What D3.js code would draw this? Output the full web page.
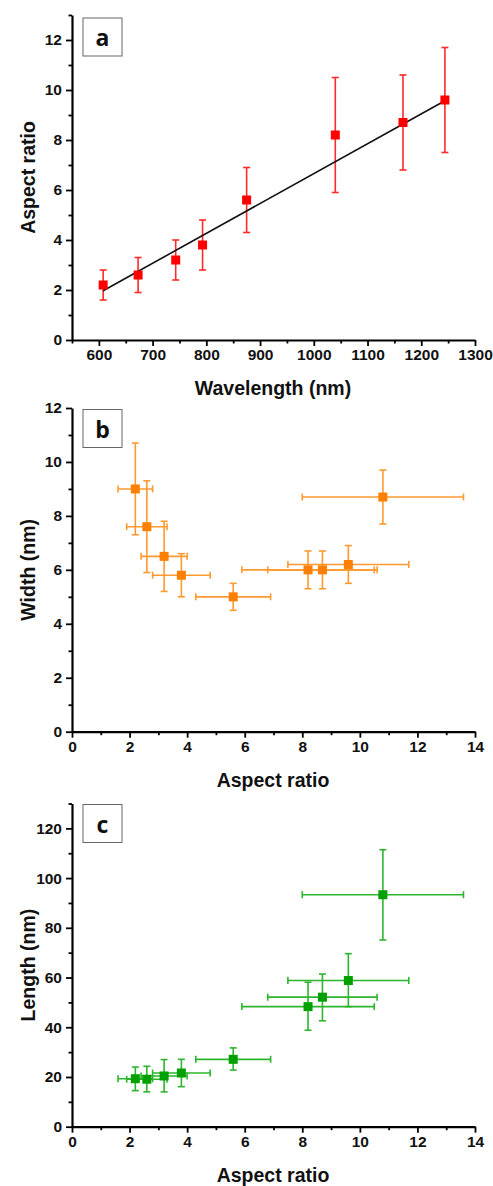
<!DOCTYPE html>
<html><head><meta charset="utf-8">
<script src="https://cdn.jsdelivr.net/npm/d3@7"></script>
<style>body{margin:0;background:#fff}svg{display:block}</style>
</head><body>
<svg id="chart" width="493" height="1186"></svg>
<script>
// Panel a: aspect ratio vs wavelength
const wavelength = [608, 673, 743, 793, 875, 1040, 1166, 1244];
const arA = [2.2, 2.6, 3.2, 3.8, 5.6, 8.2, 8.7, 9.6];
const arALow = [1.6, 1.9, 2.4, 2.8, 4.3, 5.9, 6.8, 7.5];
const arAHigh = [2.8, 3.3, 4.0, 4.8, 6.9, 10.5, 10.6, 11.7];
const fitX = [608, 1244];
const fitY = [1.97, 9.57];
const ticksA_X = [600, 700, 800, 900, 1000, 1100, 1200, 1300];
const ticksA_Y = [0, 2, 4, 6, 8, 10, 12];

// Panels b, c: aspect ratio with x error
const arB = [2.2, 2.6, 3.2, 3.8, 5.6, 8.2, 8.7, 9.6, 10.8];
const arBLow = [1.6, 1.9, 2.4, 2.8, 4.3, 5.9, 6.8, 7.5, 8.0];
const arBHigh = [2.8, 3.3, 4.0, 4.8, 6.9, 10.5, 10.6, 11.7, 13.6];
// Panel b: width
const widthV = [9.0, 7.6, 6.5, 5.8, 5.0, 6.0, 6.0, 6.2, 8.7];
const widthLow = [7.3, 5.9, 5.2, 5.0, 4.5, 5.3, 5.3, 5.5, 7.7];
const widthHigh = [10.7, 9.3, 7.8, 6.6, 5.5, 6.7, 6.7, 6.9, 9.7];
const ticksB_Y = [0, 2, 4, 6, 8, 10, 12];
// Panel c: length
const lengthV = [19.3, 19.1, 20.4, 21.6, 27.1, 48.3, 52.1, 58.8, 93.3];
const lengthLow = [14.5, 14.0, 14.0, 16.1, 22.8, 38.8, 42.6, 48.3, 75.1];
const lengthHigh = [24.0, 24.3, 27.0, 27.1, 31.7, 58.1, 61.4, 69.6, 111.4];
const ticksC_Y = [0, 20, 40, 60, 80, 100, 120];
const ticksBC_X = [0, 2, 4, 6, 8, 10, 12, 14];

const svg = d3.select("#chart");
const FONT = "'Liberation Sans', Arial, sans-serif";
const fmt = d3.format("d");

function panel(opts) {
  const g = svg.append("g");
  const x = d3.scaleLinear().domain(opts.xDomain).range([72, 475]);
  const y = d3.scaleLinear().domain(opts.yDomain).range([opts.y0, opts.y1]);

  const xMinor = d3.range(opts.xDomain[0], opts.xDomain[1] + 1e-9, opts.xMinor)
    .filter(v => !opts.xTicks.some(t => Math.abs(t - v) < 1e-9));
  const yMinor = d3.range(opts.yDomain[0], opts.yDomain[1] + 1e-9, opts.yMinor)
    .filter(v => !opts.yTicks.some(t => Math.abs(t - v) < 1e-9));

  g.append("g").attr("transform", `translate(0,${opts.y0})`)
    .call(d3.axisBottom(x).tickValues(opts.xTicks).tickFormat(fmt).tickSize(6).tickPadding(3).tickSizeOuter(0));
  g.append("g").attr("transform", `translate(0,${opts.y0})`)
    .call(d3.axisBottom(x).tickValues(xMinor).tickSize(3.5).tickFormat("").tickSizeOuter(0))
    .select(".domain").remove();
  g.append("g").attr("transform", `translate(72,0)`)
    .call(d3.axisLeft(y).tickValues(opts.yTicks).tickFormat(fmt).tickSize(6).tickPadding(4).tickSizeOuter(0));
  g.append("g").attr("transform", `translate(72,0)`)
    .call(d3.axisLeft(y).tickValues(yMinor).tickSize(3.5).tickFormat("").tickSizeOuter(0))
    .select(".domain").remove();

  g.selectAll(".domain").attr("stroke", "#000").attr("stroke-width", 2.2);
  g.selectAll(".tick line").attr("stroke", "#000").attr("stroke-width", 1.8);
  g.selectAll(".tick text").attr("font-family", FONT).attr("font-weight", "bold")
    .attr("font-size", 15.5).attr("fill", "#111");

  g.append("text").attr("x", 273).attr("y", opts.y0 + 55)
    .attr("text-anchor", "middle").attr("font-family", FONT).attr("font-weight", "bold")
    .attr("font-size", 19.5).attr("fill", "#111").text(opts.xTitle);
  g.append("text").attr("transform", `translate(35,${(opts.y0 + opts.y1) / 2}) rotate(-90)`)
    .attr("text-anchor", "middle").attr("font-family", FONT).attr("font-weight", "bold")
    .attr("font-size", 19.5).attr("fill", "#111").text(opts.yTitle);

  g.append("rect").attr("x", 83).attr("y", opts.y1 + opts.boxOff).attr("width", 39).attr("height", 38)
    .attr("fill", "#fff").attr("stroke", "#666").attr("stroke-width", 1);
  g.append("text").attr("x", 102.5).attr("y", opts.y1 + opts.boxOff + 28)
    .attr("text-anchor", "middle").attr("font-family", "'Open Sans', sans-serif").attr("font-weight", "bold")
    .attr("font-size", 23).attr("fill", "#111").text(opts.letter);

  return {g, x, y};
}

function drawErrors(p, xs, ys, yLo, yHi, xLo, xHi, colErr) {
  const cap = 3.5;
  const eg = p.g.append("g").attr("stroke", colErr).attr("stroke-width", 1.6).attr("fill", "none");
  xs.forEach((v, i) => {
    eg.append("line").attr("x1", p.x(xs[i])).attr("x2", p.x(xs[i])).attr("y1", p.y(yLo[i])).attr("y2", p.y(yHi[i]));
    eg.append("line").attr("x1", p.x(xs[i]) - cap).attr("x2", p.x(xs[i]) + cap).attr("y1", p.y(yLo[i])).attr("y2", p.y(yLo[i]));
    eg.append("line").attr("x1", p.x(xs[i]) - cap).attr("x2", p.x(xs[i]) + cap).attr("y1", p.y(yHi[i])).attr("y2", p.y(yHi[i]));
    if (xLo) {
      eg.append("line").attr("x1", p.x(xLo[i])).attr("x2", p.x(xHi[i])).attr("y1", p.y(ys[i])).attr("y2", p.y(ys[i]));
      eg.append("line").attr("x1", p.x(xLo[i])).attr("x2", p.x(xLo[i])).attr("y1", p.y(ys[i]) - cap).attr("y2", p.y(ys[i]) + cap);
      eg.append("line").attr("x1", p.x(xHi[i])).attr("x2", p.x(xHi[i])).attr("y1", p.y(ys[i]) - cap).attr("y2", p.y(ys[i]) + cap);
    }
  });
}

function drawMarkers(p, xs, ys, col) {
  const s = 9;
  p.g.append("g").selectAll("rect").data(xs.map((v, i) => i)).join("rect")
    .attr("x", i => p.x(xs[i]) - s / 2).attr("y", i => p.y(ys[i]) - s / 2)
    .attr("width", s).attr("height", s).attr("fill", col);
}

// Panel a
const pa = panel({xDomain: [550, 1300], yDomain: [0, 13], y0: 340, y1: 15, xTicks: ticksA_X, yTicks: ticksA_Y,
  xMinor: 50, yMinor: 1, xTitle: "Wavelength (nm)", yTitle: "Aspect ratio", letter: "a", boxOff: 3});
drawErrors(pa, wavelength, arA, arALow, arAHigh, null, null, "#ff2a2a");
pa.g.append("path").datum(fitX.map((v, i) => [v, fitY[i]]))
  .attr("d", d3.line().x(d => pa.x(d[0])).y(d => pa.y(d[1])))
  .attr("stroke", "#111").attr("stroke-width", 1.6).attr("fill", "none");
drawMarkers(pa, wavelength, arA, "#ff0000");

// Panel b
const pb = panel({xDomain: [0, 14], yDomain: [0, 12], y0: 731.7, y1: 408, xTicks: ticksBC_X, yTicks: ticksB_Y,
  xMinor: 1, yMinor: 1, xTitle: "Aspect ratio", yTitle: "Width (nm)", letter: "b", boxOff: 1.5});
drawErrors(pb, arB, widthV, widthLow, widthHigh, arBLow, arBHigh, "#ff9a30");
drawMarkers(pb, arB, widthV, "#ff8000");

// Panel c
const pc = panel({xDomain: [0, 14], yDomain: [0, 130], y0: 1126.7, y1: 803.5, xTicks: ticksBC_X, yTicks: ticksC_Y,
  xMinor: 1, yMinor: 10, xTitle: "Aspect ratio", yTitle: "Length (nm)", letter: "c", boxOff: 1});
drawErrors(pc, arB, lengthV, lengthLow, lengthHigh, arBLow, arBHigh, "#2db52d");
drawMarkers(pc, arB, lengthV, "#00a000");
</script>
</body></html>
